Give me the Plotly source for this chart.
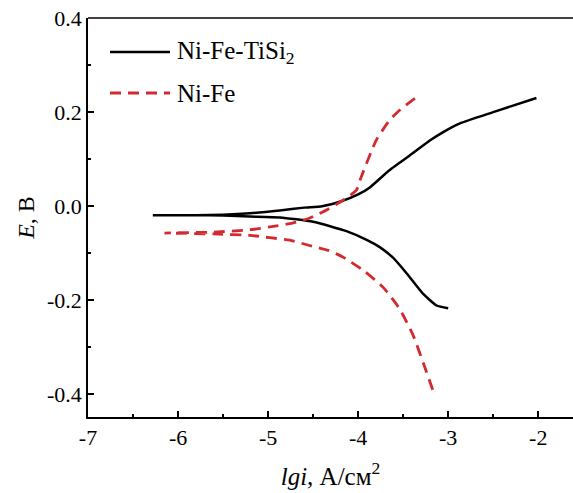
import plotly.graph_objects as go

# Ni-Fe-TiSi2 (black, solid)
tisi_anodic_x = [-6.28, -5.8, -5.5, -5.2, -4.87, -4.6, -4.4, -4.18, -4.0, -3.87, -3.65, -3.39, -3.2, -3.06, -2.87, -2.5, -2.02]
tisi_anodic_y = [-0.019, -0.019, -0.018, -0.015, -0.009, -0.003, 0.000, 0.011, 0.025, 0.040, 0.077, 0.113, 0.140, 0.157, 0.176, 0.200, 0.230]
tisi_cath_x = [-6.28, -5.8, -5.5, -5.2, -4.87, -4.5, -4.13, -3.9, -3.76, -3.61, -3.46, -3.28, -3.13, -3.0]
tisi_cath_y = [-0.019, -0.019, -0.020, -0.022, -0.024, -0.033, -0.053, -0.072, -0.087, -0.110, -0.143, -0.186, -0.211, -0.217]

# Ni-Fe (red, dashed)
nife_anodic_x = [-6.15, -5.6, -5.2, -4.98, -4.73, -4.55, -4.39, -4.18, -4.02, -3.98, -3.8, -3.65, -3.54, -3.37]
nife_anodic_y = [-0.057, -0.055, -0.050, -0.044, -0.036, -0.026, -0.012, 0.011, 0.034, 0.055, 0.140, 0.183, 0.204, 0.229]
nife_cath_x = [-6.15, -5.6, -5.2, -4.98, -4.76, -4.55, -4.33, -4.17, -3.93, -3.72, -3.54, -3.39, -3.24, -3.17]
nife_cath_y = [-0.057, -0.059, -0.062, -0.067, -0.072, -0.083, -0.094, -0.108, -0.138, -0.173, -0.218, -0.274, -0.353, -0.391]

series_names = ["Ni-Fe-TiSi<sub>2</sub>", "Ni-Fe"]

x_ticks = [-7, -6, -5, -4, -3, -2]
x_ticktext = ["-7", "-6", "-5", "-4", "-3", "-2"]
y_ticks = [-0.4, -0.2, 0.0, 0.2, 0.4]
y_ticktext = ["-0.4", "-0.2", "0.0", "0.2", "0.4"]

FONT = "Liberation Serif, Times New Roman, serif"
RED = "#d22a2f"
DASH = "11px,7px"

fig = go.Figure()
fig.add_trace(go.Scatter(x=tisi_anodic_x[::-1] + tisi_cath_x, y=tisi_anodic_y[::-1] + tisi_cath_y,
                         mode="lines", line=dict(color="black", width=2.5, shape="spline", smoothing=0.5),
                         name=series_names[0], showlegend=False))
fig.add_trace(go.Scatter(x=nife_anodic_x[::-1] + nife_cath_x, y=nife_anodic_y[::-1] + nife_cath_y,
                         mode="lines", line=dict(color=RED, width=2.8, dash=DASH, shape="spline", smoothing=0.5),
                         name=series_names[1], showlegend=False))

# manual legend (paper coords; plot area spans 88..573 x, 18..417 y)
def px(xp):
    return (xp - 88) / 485.0
def py(yp):
    return (417 - yp) / 399.0

legend_rows = [(52, dict(color="black", width=2.5)), (93, dict(color=RED, width=2.8, dash=DASH))]
for name, (yrow, lstyle) in zip(series_names, legend_rows):
    fig.add_shape(type="line", xref="paper", yref="paper", x0=px(110), x1=px(170), y0=py(yrow), y1=py(yrow),
                  line=lstyle)
    fig.add_annotation(xref="paper", yref="paper", x=px(175), y=py(yrow), text=name, showarrow=False,
                       xanchor="left", yanchor="middle", font=dict(family=FONT, size=25, color="black"))

fig.update_layout(
    width=573, height=493,
    margin=dict(l=88, r=0, t=18, b=76),
    plot_bgcolor="white", paper_bgcolor="white",
    font=dict(family=FONT, size=22, color="black"),
    xaxis=dict(range=[-7, -1.614], tickvals=x_ticks, ticktext=x_ticktext, automargin=False,
               ticks="inside", ticklen=6, tickwidth=1.5, tickcolor="black",
               showline=True, linecolor="black", linewidth=1.5, showgrid=False, zeroline=False,
               minor=dict(ticks="inside", ticklen=3, tickwidth=1.5, dtick=0.5, tickcolor="black", showgrid=False),
               tickfont=dict(family=FONT, size=22),
               title=dict(text="<i>lgi</i>, А/см<sup>2</sup>", font=dict(family=FONT, size=25), standoff=18)),
    yaxis=dict(range=[-0.448, 0.4], tickvals=y_ticks, ticktext=y_ticktext, automargin=False,
               ticks="inside", ticklen=6, tickwidth=1.5, tickcolor="black",
               showline=True, linecolor="black", linewidth=1.5, showgrid=False, zeroline=False,
               minor=dict(ticks="inside", ticklen=3, tickwidth=1.5, dtick=0.1, tickcolor="black", showgrid=False),
               tickfont=dict(family=FONT, size=22),
               title=dict(text="<i>E</i>, В", font=dict(family=FONT, size=24), standoff=6)),
)
fig.add_shape(type="line", xref="paper", yref="paper", x0=0, x1=1, y0=1, y1=1,
              line=dict(color="black", width=1.5))

fig.write_html("out.html", config={"displayModeBar": False},
               post_script="document.body.style.margin='0';")
